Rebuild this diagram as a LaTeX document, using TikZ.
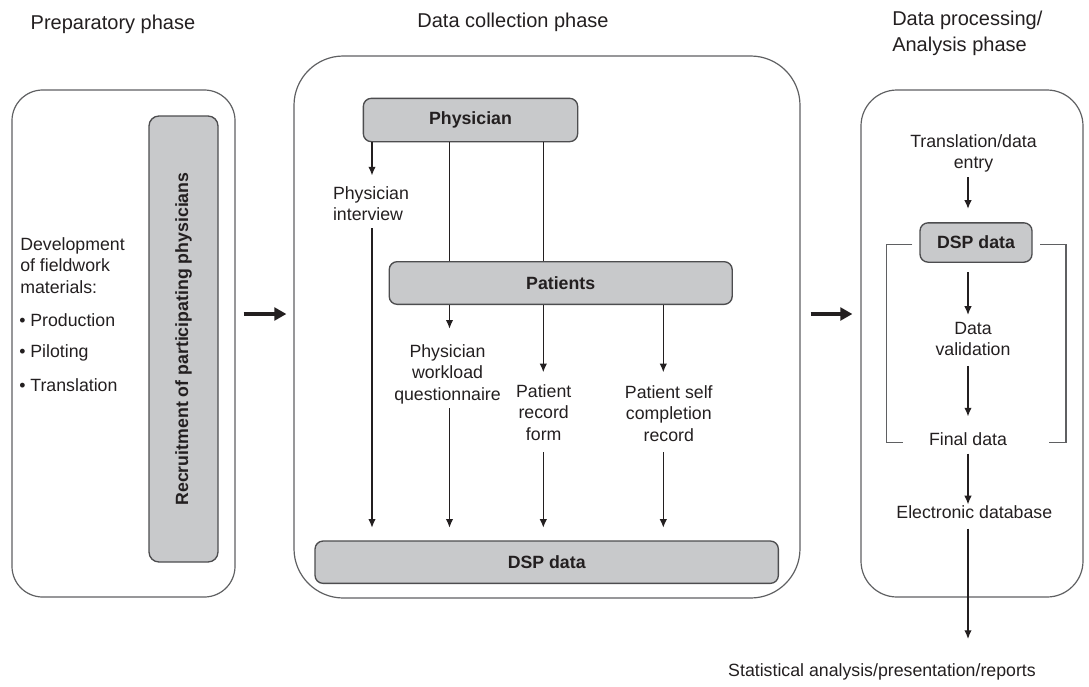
\documentclass[tikz,border=0pt]{standalone}
\usepackage{fontspec}
\setmainfont{Liberation Sans}
\usetikzlibrary{arrows.meta,calc}
\definecolor{txt}{HTML}{231F20}
\definecolor{boxfill}{HTML}{C8C9CB}
\definecolor{boxline}{HTML}{4D4D4F}
\definecolor{panelline}{HTML}{5F6062}
\begin{document}
\begin{tikzpicture}[x=0.75pt,y=-0.75pt,
  font=\fontsize{13.3}{16.1}\selectfont, text=txt,
  graybox/.style={draw=boxline, fill=boxfill, line width=1pt, rounded corners=6pt,
    font=\fontsize{13.3}{16}\selectfont\bfseries, inner sep=0pt},
  panel/.style={draw=panelline, line width=0.9pt, inner sep=0pt},
  lbl/.style={align=center, inner sep=2pt},
  conn/.style={draw=txt, line width=0.95pt},
  arr/.style={conn, -{Latex[length=6.5pt,width=5.6pt]}},
  bigarr/.style={draw=txt, line width=3pt, -{Triangle[length=9pt,width=9.5pt]}},
  bracketline/.style={draw=panelline, line width=0.9pt},
  title/.style={font=\fontsize{15}{19.5}\selectfont, inner sep=0pt}]

\useasboundingbox (0,0) rectangle (1089,686);

% titles
\node[title] (t1) at (113,24) {Preparatory phase};
\node[title] (t2) at (513,22) {Data collection phase};
\node[title, align=left, anchor=west] (t3) at (892,33) {Data processing/\\Analysis phase};

% panels
\node[panel, rounded corners=23pt, minimum width=167.25pt, minimum height=380.25pt] (leftp) at (123.5,343.5) {};
\node[panel, rounded corners=37pt, minimum width=379.5pt, minimum height=406.5pt] (midp) at (547,327) {};
\node[panel, rounded corners=27pt, minimum width=166.5pt, minimum height=380.25pt] (rightp) at (972,343.5) {};

% left panel content
\node[graybox, rotate=90, rounded corners=7.5pt, minimum width=334.5pt, minimum height=51.75pt] (recr) at (183.5,339) {Recruitment of participating physicians};
\node[align=left, anchor=west, inner sep=0pt] (dev) at (20,265.2) {Development\\of fieldwork\\materials:};
\node[anchor=west, inner sep=0pt] (b1) at (19,320) {• Production};
\node[anchor=west, inner sep=0pt] (b2) at (19,353) {• Piloting};
\node[anchor=west, inner sep=0pt] (b3) at (19,385.5) {• Translation};

% phase arrows
\coordinate (ay) at (0,314);
\draw[bigarr, shorten <=6pt, shorten >=5.25pt] (leftp.east |- ay) -- (midp.west |- ay);
\draw[bigarr, shorten <=7.5pt, shorten >=6pt] (midp.east |- ay) -- (rightp.west |- ay);

% middle panel
\node[graybox, minimum width=160.75pt, minimum height=32.5pt] (phys) at (470.5,120) {Physician};
\node[graybox, minimum width=257.25pt, minimum height=32pt] (pat) at (560.7,283) {Patients};
\node[graybox, minimum width=347.5pt, minimum height=31.75pt] (dspm) at (546.7,562.2) {DSP data};

\coordinate (xa) at (372,0);
\coordinate (xb) at (449.5,0);
\coordinate (xc) at (543.3,0);
\coordinate (xd) at (663.3,0);

\node[lbl, align=left] (piv) at (371,203.5) {Physician\\interview};
\node[lbl] (pwq) at (447.5,374) {Physician\\workload\\questionnaire};
\node[lbl] (prf) at (543.7,412.2) {Patient\\record\\form};
\node[lbl] (psc) at (668.8,413.2) {Patient self\\completion\\record};

\draw[arr, shorten >=5.9pt] (phys.south -| xa) -- (piv.north -| xa);
\draw[arr, shorten <=3.6pt, shorten >=9.5pt] (piv.south -| xa) -- (dspm.north -| xa);
\draw[conn] (phys.south -| xb) -- (pat.north -| xb);
\draw[conn] (phys.south -| xc) -- (pat.north -| xc);

\draw[arr, shorten >=9.5pt] (pat.south -| xb) -- (pwq.north -| xb);
\draw[arr, shorten <=1.3pt, shorten >=9.5pt] (pwq.south -| xb) -- (dspm.north -| xb);
\draw[arr, shorten >=6.8pt] (pat.south -| xc) -- (prf.north -| xc);
\draw[arr, shorten <=6.8pt, shorten >=9.5pt] (prf.south -| xc) -- (dspm.north -| xc);
\draw[arr, shorten >=7.5pt] (pat.south -| xd) -- (psc.north -| xd);
\draw[arr, shorten <=6pt, shorten >=9.5pt] (psc.south -| xd) -- (dspm.north -| xd);

% right panel
\coordinate (xr) at (968,0);
\node[lbl] (tde) at (973.5,153.2) {Translation/data\\entry};
\node[graybox, minimum width=84pt, minimum height=29.5pt] (dspr) at (976,242.5) {DSP data};
\node[lbl] (dv) at (973,339) {Data\\validation};
\node[lbl] (fd) at (968,439.2) {Final data};
\node[lbl] (edb) at (974.3,512.5) {Electronic database};
\node[lbl] (stat) at (882,671.5) {Statistical analysis/presentation/reports};

\draw[bracketline] (912.3,244.3) -- (886.7,244.3) -- (886.7,442.7) -- (903,442.7);
\draw[bracketline] (1040,244.3) -- (1066,244.3) -- (1066,442.7) -- (1049,442.7);

\draw[arr, shorten <=1.5pt, shorten >=10pt] (tde.south -| xr) -- (dspr.north -| xr);
\draw[arr, shorten <=7pt, shorten >=3.2pt] (dspr.south -| xr) -- (dv.north -| xr);
\draw[arr, shorten <=5.2pt, shorten >=10pt] (dv.south -| xr) -- (fd.north -| xr);
\draw[arr, shorten <=3.8pt, shorten >=-1pt] (fd.south -| xr) -- (edb.north -| xr);
\draw[arr, shorten <=5pt, shorten >=16pt] (edb.south -| xr) -- (stat.north -| xr);
\end{tikzpicture}
\end{document}
